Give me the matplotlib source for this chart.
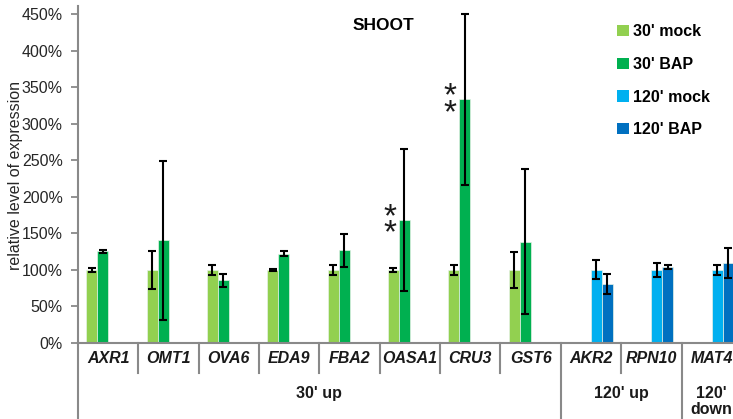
import numpy as np
import matplotlib
matplotlib.use('Agg')
import matplotlib.pyplot as plt
from matplotlib.transforms import blended_transform_factory
from matplotlib.patches import Patch

plt.rcParams['font.family'] = ['Liberation Sans', 'DejaVu Sans']

nan = np.nan
genes = ['AXR1', 'OMT1', 'OVA6', 'EDA9', 'FBA2', 'OASA1', 'CRU3', 'GST6', 'AKR2', 'RPN10', 'MAT4']
series_names = ["30' mock", "30' BAP", "120' mock", "120' BAP"]
mock30 = [100, 100, 100, 100, 100, 100, 100, 100, nan, nan, nan]
mock30_err = [2.5, 26, 7, 1.5, 7, 2.5, 7, 25, nan, nan, nan]
bap30 = [125.5, 140.5, 86, 122, 127, 168.5, 333.5, 138.5, nan, nan, nan]
bap30_err = [2.3, 109, 9, 3.5, 22.5, 97, 117, 99, nan, nan, nan]
mock120 = [nan] * 8 + [100, 100, 100]
mock120_err = [nan] * 8 + [13, 10, 7]
bap120 = [nan] * 8 + [81, 104.5, 109.5]
bap120_err = [nan] * 8 + [14, 2.7, 21]
groups = ["30' up", "120' up", "120'\ndown"]
group_spans = [(0, 8), (8, 10), (10, 11)]
starred = ['OASA1', 'CRU3']
yticks = [0, 50, 100, 150, 200, 250, 300, 350, 400, 450]

colors = ['#92D050', '#00B050', '#00B0F0', '#0070C0']
values = [mock30, bap30, mock120, bap120]
errors = [mock30_err, bap30_err, mock120_err, bap120_err]

W, H = 733, 419
fig = plt.figure(figsize=(W / 100, H / 100), dpi=100)
ax = fig.add_axes([78 / W, (H - 343) / H, 1 - 78 / W, (343 - 6) / H])

n = len(genes)
x = np.arange(n) + 0.5
w = 11 / 60.35
gray = '#898989'
for k in range(4):
    xs = x + (k - 1.5) * w
    v = np.array(values[k], dtype=float)
    e = np.array(errors[k], dtype=float)
    m = ~np.isnan(v)
    ax.bar(xs[m], v[m], width=w, color=colors[k], edgecolor='#e6f2e6', linewidth=0.5, zorder=2)
    ax.errorbar(xs[m], v[m], yerr=e[m], fmt='none', ecolor='black', elinewidth=1.5,
                capsize=2.8, capthick=1.5, zorder=3)

ax.set_xlim(0, (W - 78) / 60.35)
ax.set_ylim(0, 461)
ax.set_yticks(yticks)
ax.set_yticklabels([f'{t}%' for t in yticks], fontsize=11.5, color='#262626')
ax.tick_params(axis='y', direction='out', length=5, width=1.3, color=gray, pad=6)
ax.set_xticks([])
for s in ['top', 'right']:
    ax.spines[s].set_visible(False)
for s in ['left', 'bottom']:
    ax.spines[s].set_color(gray)
    ax.spines[s].set_linewidth(1.5)

trans = blended_transform_factory(ax.transData, ax.transAxes)
ah = 337.0
# category labels
for xi, g in zip(x, genes):
    ax.text(xi, -15 / ah, g, transform=trans, ha='center', va='center', fontsize=11.5,
            fontweight='bold', style='italic', color='#1a1a1a', clip_on=False)
# dividers
long_pos = [a for a, b in group_spans]
for i in range(n):
    if i in long_pos:
        ax.plot([i, i], [0, -80 / ah], transform=trans, color=gray, lw=1.5, clip_on=False)
    else:
        ax.plot([i, i], [0, -30 / ah], transform=trans, color=gray, lw=1.5, clip_on=False)
# group labels
for (a, b), lab in zip(group_spans, groups):
    ax.text((a + b) / 2, -43 / ah, lab, transform=trans, ha='center', va='top', fontsize=11.5,
            fontweight='bold', color='#1a1a1a', linespacing=1.05, clip_on=False)

# significance stars
for gname in starred:
    i = genes.index(gname)
    xs = x[i] - 1.5 * w - 0.06
    yv = bap30[i]
    ax.text(xs, yv - 8, '*\n*', ha='center', va='center', fontsize=24, color='#1a1a1a',
            linespacing=0.4)

fig.text(383 / W, 1 - 25 / H, 'SHOOT', ha='center', va='center', fontsize=12.5, fontweight='bold')
fig.text(16 / W, 1 - 175 / H, 'relative level of expression', rotation=90, ha='center',
         va='center', fontsize=11.5, color='#262626')

handles = [Patch(facecolor=c, edgecolor='none') for c in colors]
leg = fig.legend(handles, series_names, loc='upper left', bbox_to_anchor=(603 / W, 1 - 10 / H),
                 frameon=False, handlelength=0.7, handleheight=0.7, handletextpad=0.25,
                 labelspacing=1.1, prop={'weight': 'bold', 'size': 11.5})

fig.savefig('out.png', dpi=100)
